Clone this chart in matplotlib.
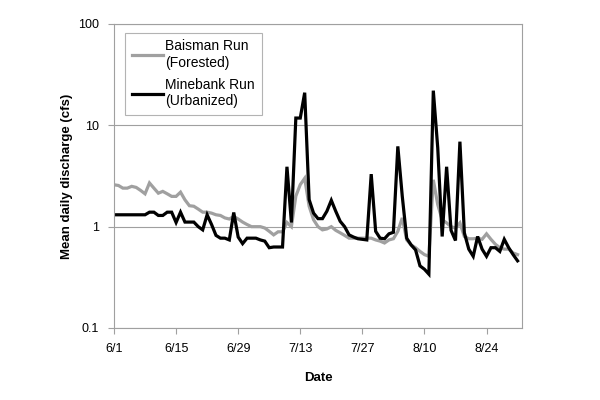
import matplotlib
matplotlib.use("Agg")
import matplotlib.pyplot as plt
import numpy as np

plt.rcParams['font.family'] = ['Liberation Sans', 'DejaVu Sans']

days = list(range(92))  # 6/1 .. 8/31 as day offsets
tick_pos = [0, 14, 28, 42, 56, 70, 84]
tick_labels = ["6/1", "6/15", "6/29", "7/13", "7/27", "8/10", "8/24"]

baisman = [2.59, 2.55, 2.4, 2.4, 2.5, 2.44, 2.28, 2.11, 2.7, 2.4,
           2.14, 2.23, 2.11, 1.99, 1.99, 2.19, 1.84, 1.61, 1.59, 1.49,
           1.39, 1.39, 1.36, 1.31, 1.29, 1.22, 1.19, 1.26, 1.19, 1.11,
           1.05, 1.0, 1.0, 1.0, 0.97, 0.9, 0.83, 0.89, 0.89, 1.1,
           1.0, 2.0, 2.6, 3.0, 1.59, 1.17, 1.0, 0.93, 0.95, 1.0,
           0.92, 0.87, 0.82, 0.77, 0.77, 0.77, 0.77, 0.77, 0.77, 0.74,
           0.72, 0.69, 0.74, 0.76, 0.9, 1.22, 0.74, 0.66, 0.62, 0.57,
           0.53, 0.51, 2.9, 1.65, 1.17, 1.09, 1.0, 0.97, 1.09, 0.8,
           0.76, 0.76, 0.77, 0.75, 0.85, 0.75, 0.67, 0.62, 0.6, 0.6,
           0.55, 0.53]

minebank = [1.31, 1.31, 1.31, 1.31, 1.31, 1.31, 1.31, 1.31, 1.39, 1.39,
            1.29, 1.29, 1.39, 1.39, 1.1, 1.39, 1.11, 1.11, 1.11, 1.0,
            0.93, 1.31, 1.05, 0.82, 0.77, 0.77, 0.74, 1.38, 0.79, 0.68,
            0.77, 0.77, 0.77, 0.74, 0.72, 0.62, 0.63, 0.63, 0.63, 3.9,
            1.1, 11.8, 11.8, 21.0, 1.85, 1.36, 1.2, 1.2, 1.42, 1.82,
            1.42, 1.13, 1.0, 0.83, 0.79, 0.76, 0.75, 0.74, 3.3, 0.9,
            0.77, 0.76, 0.85, 0.88, 6.2, 2.0, 0.77, 0.66, 0.59, 0.41,
            0.38, 0.34, 22.0, 6.0, 0.8, 3.9, 0.92, 0.73, 6.9, 0.87,
            0.6, 0.51, 0.8, 0.6, 0.51, 0.62, 0.62, 0.57, 0.75, 0.62,
            0.53, 0.46]

fig = plt.figure(figsize=(6, 4), dpi=100)
ax = fig.add_axes([0.19, 0.18, 0.68, 0.76])

ax.plot(days, baisman, color='#a0a0a0', lw=2.3, label='Baisman Run\n(Forested)', solid_joinstyle='miter')
ax.plot(days, minebank, color='black', lw=2.3, label='Minebank Run\n(Urbanized)', solid_joinstyle='miter')

ax.set_yscale('log')
ax.set_ylim(0.1, 100)
ax.set_xlim(0, 92)
ax.set_yticks([0.1, 1, 10, 100])
ax.set_yticklabels(['0.1', '1', '10', '100'])
ax.yaxis.set_minor_locator(matplotlib.ticker.NullLocator())
ax.set_xticks(tick_pos)
ax.set_xticklabels(tick_labels)
ax.tick_params(axis='both', labelsize=9, length=4, color='#a0a0a0', width=0.8)
ax.tick_params(axis='x', pad=7)
ax.tick_params(axis='y', pad=7)
ax.yaxis.grid(True, color='#a0a0a0', lw=0.8)
ax.set_axisbelow(True)
for s in ax.spines.values():
    s.set_color('#a0a0a0')
    s.set_linewidth(0.8)

ax.set_xlabel('Date', fontsize=9.5, fontweight='bold', labelpad=12)
ax.set_ylabel('Mean daily discharge (cfs)', fontsize=9.5, fontweight='bold')
ax.yaxis.set_label_coords(-0.1, 0.5)

leg = ax.legend(loc='upper left', bbox_to_anchor=(0.028, 0.972), fontsize=10,
                frameon=True, fancybox=False, edgecolor='#a0a0a0',
                handlelength=2.2, handletextpad=0.15, borderpad=0.5,
                labelspacing=0.6, borderaxespad=0)
leg.get_frame().set_linewidth(0.8)

fig.savefig('out.png', dpi=100, facecolor='white')
